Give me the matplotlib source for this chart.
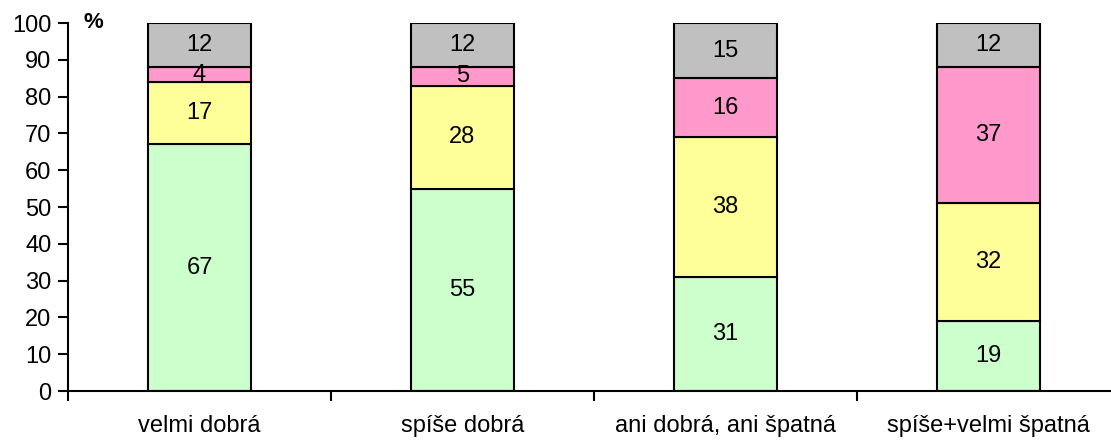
import matplotlib
matplotlib.use("Agg")
import matplotlib.pyplot as plt
import numpy as np

categories = ["velmi dobrá", "spíše dobrá", "ani dobrá, ani špatná", "spíše+velmi špatná"]
green = [67, 55, 31, 19]
yellow = [17, 28, 38, 32]
pink = [4, 5, 16, 37]
gray = [12, 12, 15, 12]
series = [green, yellow, pink, gray]
colors = ["#CCFFCC", "#FFFF99", "#FF99CC", "#C0C0C0"]

plt.rcParams["font.family"] = ["Liberation Sans", "DejaVu Sans"]

fig = plt.figure(figsize=(11.11, 4.41), dpi=100)
ax = fig.add_axes([68/1111, 50/441, 1052/1111, 368/441])

x = np.arange(len(categories))
bottom = np.zeros(len(categories))
for vals, c in zip(series, colors):
    vals = np.array(vals, dtype=float)
    ax.bar(x, vals, 0.395, bottom=bottom, color=c, edgecolor="black", linewidth=1.5, zorder=2)
    for xi, b, v in zip(x, bottom, vals):
        ax.text(xi, b + v / 2, f"{int(v)}", ha="center", va="center", fontsize=17, zorder=3)
    bottom += vals

ax.set_xlim(-0.5, 3.5)
ax.set_ylim(0, 100)
ax.set_yticks(np.arange(0, 101, 10))
ax.tick_params(axis="y", labelsize=17, length=7, width=1.5, direction="out", pad=5)
ax.set_xticks(np.arange(-0.5, 3.6, 1.0))
ax.set_xticklabels([])
ax.set_xticks(x, minor=True)
ax.set_xticklabels(categories, minor=True, fontsize=17)
ax.tick_params(axis="x", which="major", length=7, width=1.5, direction="out")
ax.tick_params(axis="x", which="minor", length=0, pad=17)
for s in ["top", "right"]:
    ax.spines[s].set_visible(False)
for s in ["left", "bottom"]:
    ax.spines[s].set_linewidth(1.5)

ax.text(-0.405, 100, "%", fontsize=16, fontweight="bold", ha="center", va="center")

fig.savefig("out.png", dpi=100)
